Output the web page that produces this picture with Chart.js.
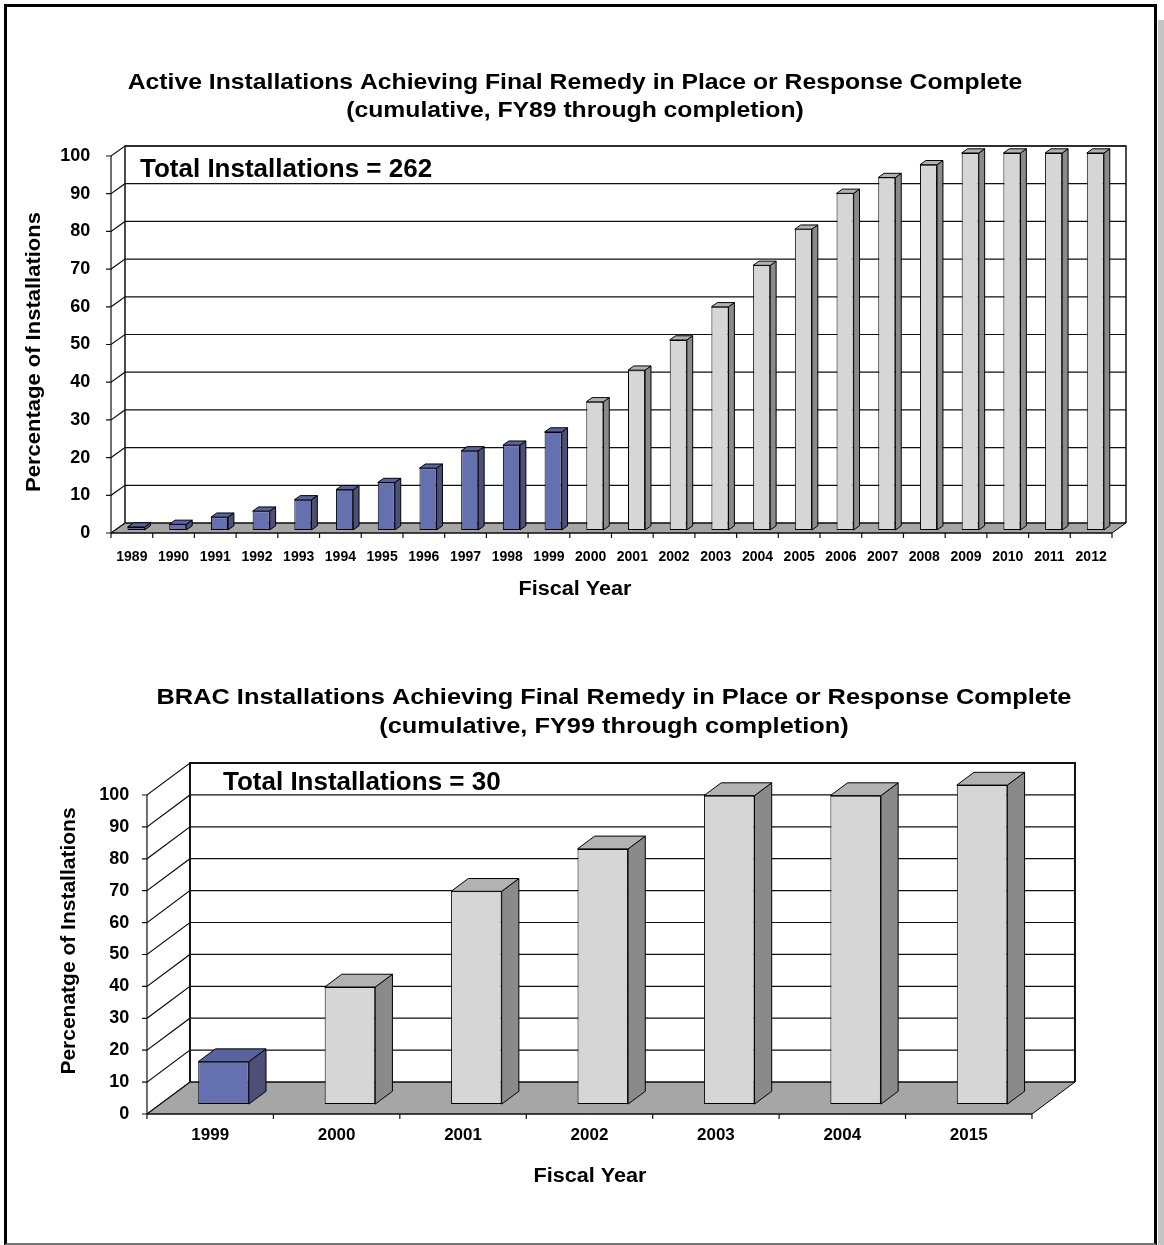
<!DOCTYPE html>
<html>
<head>
<meta charset="utf-8">
<script src="https://cdn.jsdelivr.net/npm/chart.js@4/dist/chart.umd.min.js"></script>
<style>
  html, body { margin: 0; padding: 0; background: #fff; }
  #page { position: relative; width: 1164px; height: 1245px; overflow: hidden; background: #fff; }
  #frame { position: absolute; left: 4px; top: 4px; width: 1153px; height: 1241px; box-sizing: border-box;
           border: 3px solid #000; border-bottom: 2px solid #777; }
  #shadow { position: absolute; left: 1158px; top: 20px; width: 6px; height: 1225px; background: #c4c4c4; }
  .box { position: absolute; left: 0; width: 1164px; }
  #w1 { top: 0; height: 620px; }
  #w2 { top: 620px; height: 625px; }
  canvas { display: block; }
</style>
</head>
<body>
<div id="page">
  <div id="frame"></div>
  <div id="shadow"></div>
  <div class="box" id="w1"><canvas id="c1" width="1164" height="620"></canvas></div>
  <div class="box" id="w2"><canvas id="c2" width="1164" height="625"></canvas></div>
</div>
<script>
// ---- data ----
const activeYears = ['1989','1990','1991','1992','1993','1994','1995','1996','1997','1998','1999','2000',
                     '2001','2002','2003','2004','2005','2006','2007','2008','2009','2010','2011','2012'];
const activePercent = [0.8, 1.5, 3.4, 5.0, 8.0, 10.7, 12.6, 16.4, 21.0, 22.5, 26.0, 34.0,
                       42.4, 50.4, 59.2, 70.2, 79.8, 89.3, 93.5, 96.9, 100, 100, 100, 100];
const activeTotal = 262;

const bracYears = ['1999','2000','2001','2002','2003','2004','2015'];
const bracPercent = [13.3, 36.7, 66.7, 80.0, 96.7, 96.7, 100];
const bracTotal = 30;

const lastActualYear = 1999;   // years up to this one are actuals (blue), later ones projected (gray)
const yMin = 0, yMax = 100, yStep = 10;

// ---- style ----
const FONT = '"Liberation Sans", Arial, Helvetica, sans-serif';
const faces = {
  actual:    { front: '#6470b0', side: '#4d4f78', top: '#5863a0' },
  projected: { front: '#d6d6d6', side: '#8a8a8a', top: '#b2b2b2' }
};
const faceFor = y => (parseInt(y, 10) <= lastActualYear ? faces.actual : faces.projected);

// draw a line of text, optionally widened horizontally
function wideText(ctx, str, x, y, stretch) {
  ctx.save();
  ctx.translate(x, y);
  ctx.scale(stretch, 1);
  ctx.fillText(str, 0, 0);
  ctx.restore();
}

// 3-D box frame: back wall, floor, left-wall diagonals, and bar side/top faces.
const box3d = {
  id: 'box3d',
  beforeDatasetsDraw(chart, args, o) {
    const ctx = chart.ctx, xs = chart.scales.x, ys = chart.scales.y;
    const sx = -o.dx * o.front, sy = -o.dy * o.front;       // bar plane -> front plane
    const L = xs.left + sx, R = xs.right + sx;
    const yF = v => ys.getPixelForValue(v) + sy;
    const yB = v => yF(v) + o.dy;
    const BL = L + o.dx, BR = R + o.dx;
    const ticks = ys.ticks.map(t => t.value);
    ctx.save();
    // back wall
    ctx.fillStyle = '#fff';
    ctx.fillRect(BL, yB(yMax), BR - BL, yB(yMin) - yB(yMax));
    // floor
    ctx.beginPath();
    ctx.moveTo(L, yF(yMin)); ctx.lineTo(BL, yB(yMin)); ctx.lineTo(BR, yB(yMin)); ctx.lineTo(R, yF(yMin));
    ctx.closePath();
    ctx.fillStyle = '#a6a6a6'; ctx.fill();
    ctx.strokeStyle = '#000'; ctx.lineWidth = 1; ctx.stroke();
    // gridlines: across back wall, diagonal on the left wall, tick on front axis
    ctx.strokeStyle = '#111'; ctx.lineWidth = o.grid;
    ticks.forEach(v => {
      ctx.beginPath();
      ctx.moveTo(L - o.tick, yF(v)); ctx.lineTo(L, yF(v));
      ctx.lineTo(BL, yB(v)); ctx.lineTo(BR, yB(v));
      ctx.stroke();
    });
    // wall edges
    ctx.lineWidth = o.edge;
    ctx.beginPath();
    ctx.moveTo(BL, yB(yMin)); ctx.lineTo(BL, yB(yMax)); ctx.lineTo(BR, yB(yMax)); ctx.lineTo(BR, yB(yMin));
    ctx.stroke();
    ctx.lineWidth = 1.2;
    ctx.beginPath();
    ctx.moveTo(L, yF(yMin)); ctx.lineTo(L, yF(yMax));
    ctx.moveTo(L, yF(yMin)); ctx.lineTo(R, yF(yMin));
    ctx.stroke();
    // category boundary ticks on the front floor edge
    const n = chart.data.labels.length, w = (R - L) / n;
    ctx.beginPath();
    for (let i = 0; i <= n; i++) {
      ctx.moveTo(L + i * w, yF(yMin)); ctx.lineTo(L + i * w, yF(yMin) + o.tick);
    }
    ctx.stroke();
    ctx.restore();
  },
  afterDatasetsDraw(chart, args, o) {
    const ctx = chart.ctx;
    const bx = o.dx * o.depth, by = o.dy * o.depth;
    const meta = chart.getDatasetMeta(0);
    ctx.save();
    ctx.strokeStyle = '#000'; ctx.lineWidth = 1; ctx.lineJoin = 'round';
    meta.data.forEach((bar, i) => {
      const p = bar.getProps(['x', 'y', 'base', 'width'], true);
      const l = p.x - p.width / 2, r = p.x + p.width / 2, t = p.y, b = p.base;
      const f = faceFor(chart.data.labels[i]);
      // side
      ctx.beginPath();
      ctx.moveTo(r, t); ctx.lineTo(r + bx, t + by); ctx.lineTo(r + bx, b + by); ctx.lineTo(r, b); ctx.closePath();
      ctx.fillStyle = f.side; ctx.fill(); ctx.stroke();
      // top
      ctx.beginPath();
      ctx.moveTo(l, t); ctx.lineTo(l + bx, t + by); ctx.lineTo(r + bx, t + by); ctx.lineTo(r, t); ctx.closePath();
      ctx.fillStyle = f.top; ctx.fill(); ctx.stroke();
    });
    ctx.restore();
  },
  afterDraw(chart, args, o) {
    const ctx = chart.ctx, t = o.text;
    ctx.save();
    ctx.fillStyle = '#000';
    ctx.textBaseline = 'alphabetic';
    ctx.textAlign = 'center';
    ctx.font = 'bold ' + t.titleSize + 'px ' + FONT;
    t.title.forEach((line, i) => wideText(ctx, line, t.titleX, t.titleY[i], t.titleStretch));
    ctx.textAlign = 'left';
    ctx.font = 'bold 26px ' + FONT;
    ctx.fillText(t.total, t.totalX, t.totalY);
    ctx.textAlign = 'center';
    ctx.font = 'bold ' + t.axisSize + 'px ' + FONT;
    wideText(ctx, t.xTitle, t.xTitleX, t.xTitleY, t.xStretch);
    ctx.translate(t.yTitleX, t.yTitleY);
    ctx.rotate(-Math.PI / 2);
    ctx.textBaseline = 'middle';
    wideText(ctx, t.yTitle, 0, 0, t.yStretch);
    ctx.restore();
  }
};

function makeChart(id, labels, values, geo) {
  return new Chart(document.getElementById(id), {
    type: 'bar',
    data: {
      labels: labels,
      datasets: [{
        data: values,
        backgroundColor: labels.map(y => faceFor(y).front),
        borderColor: '#000',
        borderWidth: 1,
        borderSkipped: false,
        categoryPercentage: 1,
        barPercentage: geo.barPct
      }]
    },
    options: {
      responsive: false,
      animation: false,
      events: [],
      layout: { padding: geo.pad },
      plugins: {
        legend: { display: false },
        tooltip: { enabled: false },
        box3d: geo.box
      },
      scales: {
        x: {
          grid: { display: false, drawTicks: false },
          border: { display: false },
          ticks: { color: '#000', font: { family: FONT, weight: 'bold', size: geo.xFont },
                   labelOffset: -geo.box.dx * geo.box.front, padding: geo.xPad, maxRotation: 0, autoSkip: false },
          afterFit: s => { s.height = geo.xH; }
        },
        y: {
          min: yMin, max: yMax,
          grid: { display: false, drawTicks: false },
          border: { display: false },
          ticks: { stepSize: yStep, color: '#000', font: { family: FONT, weight: 'bold', size: 18 },
                   labelOffset: -geo.box.dy * geo.box.front, padding: geo.yPad },
          afterFit: s => { s.width = geo.yW; }
        }
      }
    },
    plugins: [box3d]
  });
}

makeChart('c1', activeYears, activePercent, {
  barPct: 0.41,
  pad: { left: 10, right: 47.8, top: 153, bottom: 50 },
  yW: 105.2, xH: 40, xFont: 14, xPad: 19, yPad: 25,
  box: {
    dx: 14, dy: -10, front: 0.3, depth: 0.42, tick: 5, grid: 1.2, edge: 1.5,
    text: {
      title: ['Active Installations Achieving Final Remedy in Place or Response Complete',
              '(cumulative, FY89 through completion)'],
      titleSize: 21.5, titleStretch: 1.15, titleX: 575, titleY: [89, 117],
      total: 'Total Installations = ' + activeTotal, totalX: 140, totalY: 177,
      axisSize: 20, xStretch: 1.08, yStretch: 1.1,
      xTitle: 'Fiscal Year', xTitleX: 575, xTitleY: 595,
      yTitle: 'Percentage of Installations', yTitleX: 34, yTitleY: 352
    }
  }
});

makeChart('c2', bracYears, bracPercent, {
  barPct: 0.40,
  pad: { left: 10, right: 118.7, top: 165.1, bottom: 100.9 },
  yW: 150.3, xH: 40, xFont: 17, xPad: 21, yPad: 31,
  box: {
    dx: 43, dy: -32, front: 0.31, depth: 0.4, tick: 5, grid: 1.2, edge: 2,
    text: {
      title: ['BRAC Installations Achieving Final Remedy in Place or Response Complete',
              '(cumulative, FY99 through completion)'],
      titleSize: 21.5, titleStretch: 1.18, titleX: 614, titleY: [84, 113],
      total: 'Total Installations = ' + bracTotal, totalX: 223, totalY: 170,
      axisSize: 20, xStretch: 1.08, yStretch: 1.05,
      xTitle: 'Fiscal Year', xTitleX: 590, xTitleY: 562,
      yTitle: 'Percenatge of Installations', yTitleX: 69, yTitleY: 321
    }
  }
});
</script>
</body>
</html>
